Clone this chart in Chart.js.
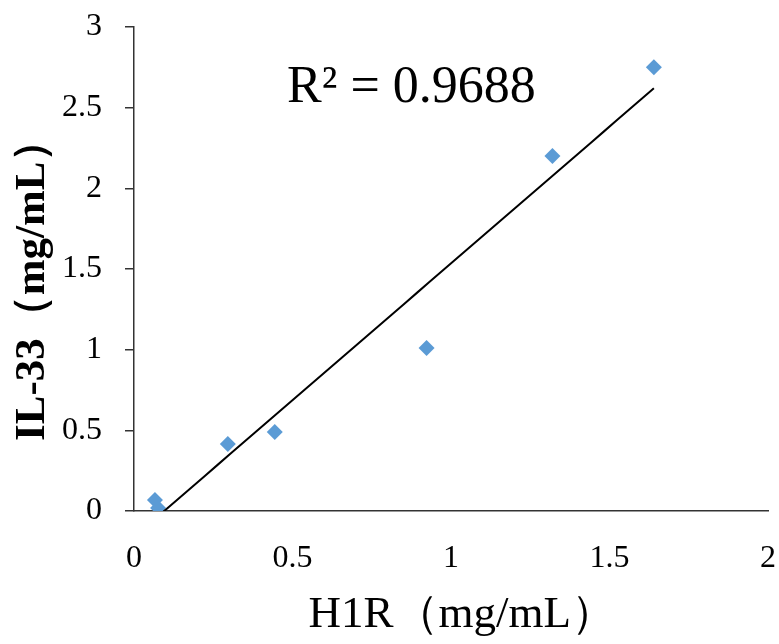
<!DOCTYPE html>
<html>
<head>
<meta charset="utf-8">
<script src="https://cdn.jsdelivr.net/npm/chart.js@4.4.1/dist/chart.umd.min.js"></script>
<style>
  html, body { margin: 0; padding: 0; background: #fff; }
  #wrap { width: 779px; height: 644px; }
</style>
</head>
<body>
<div id="wrap"><canvas id="myChart" width="779" height="644"></canvas></div>
<script>
// values
var h1r  = [0.066, 0.076, 0.296, 0.444, 0.923, 1.32, 1.64];
var il33 = [0.068, 0.019, 0.415, 0.49, 1.01, 2.2, 2.75];
var xTicks = [0, 0.5, 1, 1.5, 2];
var yTicks = [0, 0.5, 1, 1.5, 2, 2.5, 3];
var r2Label = 'R\u00B2 = 0.9688';
var r2Pos = { x: 0.483, y: 2.535 };

var serif = '"Liberation Serif", "Times New Roman", serif';
var axisCol = '#333333';

// least squares trendline, like excel
var n = h1r.length, sx = 0, sy = 0, sxy = 0, sxx = 0;
for (var i = 0; i < n; i++) {
    sx += h1r[i]; sy += il33[i];
    sxy += h1r[i] * il33[i]; sxx += h1r[i] * h1r[i];
}
var slope = (n * sxy - sx * sy) / (n * sxx - sx * sx);
var icept = (sy - slope * sx) / n;
var xmin = Math.min.apply(null, h1r), xmax = Math.max.apply(null, h1r);
var trend = [];
for (var k = 0; k <= 40; k++) {
    var xv = xmin + (xmax - xmin) * k / 40;
    trend.push({ x: xv, y: slope * xv + icept });
}

var points = h1r.map(function (v, i) { return { x: v, y: il33[i] }; });

var r2Text = {
    id: 'r2Text',
    afterDatasetsDraw: function (chart) {
        var c = chart.ctx;
        c.save();
        c.font = '52px ' + serif;
        c.fillStyle = '#000';
        c.textAlign = 'left';
        c.textBaseline = 'alphabetic';
        c.fillText(r2Label, chart.scales.x.getPixelForValue(r2Pos.x), chart.scales.y.getPixelForValue(r2Pos.y));
        c.restore();
    }
};

new Chart(document.getElementById('myChart'), {
    type: 'scatter',
    data: {
        datasets: [{
            label: 'IL-33',
            data: points,
            pointStyle: 'rectRot',
            pointRadius: 8,
            pointHoverRadius: 8,
            backgroundColor: '#5B9BD5',
            borderColor: '#5B9BD5',
            borderWidth: 0,
            order: 2
        }, {
            type: 'line',
            label: 'trend',
            data: trend,
            borderColor: '#000',
            borderWidth: 2,
            pointRadius: 0,
            fill: false,
            order: 1
        }]
    },
    options: {
        responsive: false,
        animation: false,
        layout: { padding: { left: 0, right: 11, top: 27, bottom: 0 } },
        plugins: {
            legend: { display: false },
            tooltip: { enabled: false }
        },
        scales: {
            x: {
                type: 'linear',
                min: 0, max: 2,
                afterBuildTicks: function (s) { s.ticks = xTicks.map(function (v) { return { value: v }; }); },
                afterFit: function (s) { s.height = 133; s.paddingLeft = 0; s.paddingRight = 0; },
                ticks: { color: '#000', padding: 28, font: { family: serif, size: 32 },
                         callback: function (v) { return String(v); } },
                grid: { display: false, drawTicks: false },
                border: { display: true, color: axisCol, width: 1.5 },
                title: { display: true, text: '\u2002H1R（mg/mL）', color: '#000', padding: { top: 0, bottom: 2 },
                         font: { family: serif, size: 45 } }
            },
            y: {
                min: 0, max: 3,
                afterBuildTicks: function (s) { s.ticks = yTicks.map(function (v) { return { value: v }; }); },
                afterFit: function (s) { s.width = 134; s.paddingTop = 0; s.paddingBottom = 0; },
                ticks: { color: '#000', padding: 23, font: { family: serif, size: 32 },
                         callback: function (v) { return String(v); } },
                grid: { drawOnChartArea: false, drawTicks: true, tickLength: 9, color: axisCol, lineWidth: 1.5 },
                border: { display: true, color: axisCol, width: 1.5 },
                title: { display: true, text: 'IL-33（mg/mL）\u2002', color: '#000', padding: { top: 7, bottom: 0 },
                         font: { family: serif, size: 43, weight: 'bold' } }
            }
        }
    },
    plugins: [r2Text]
});
</script>
</body>
</html>
